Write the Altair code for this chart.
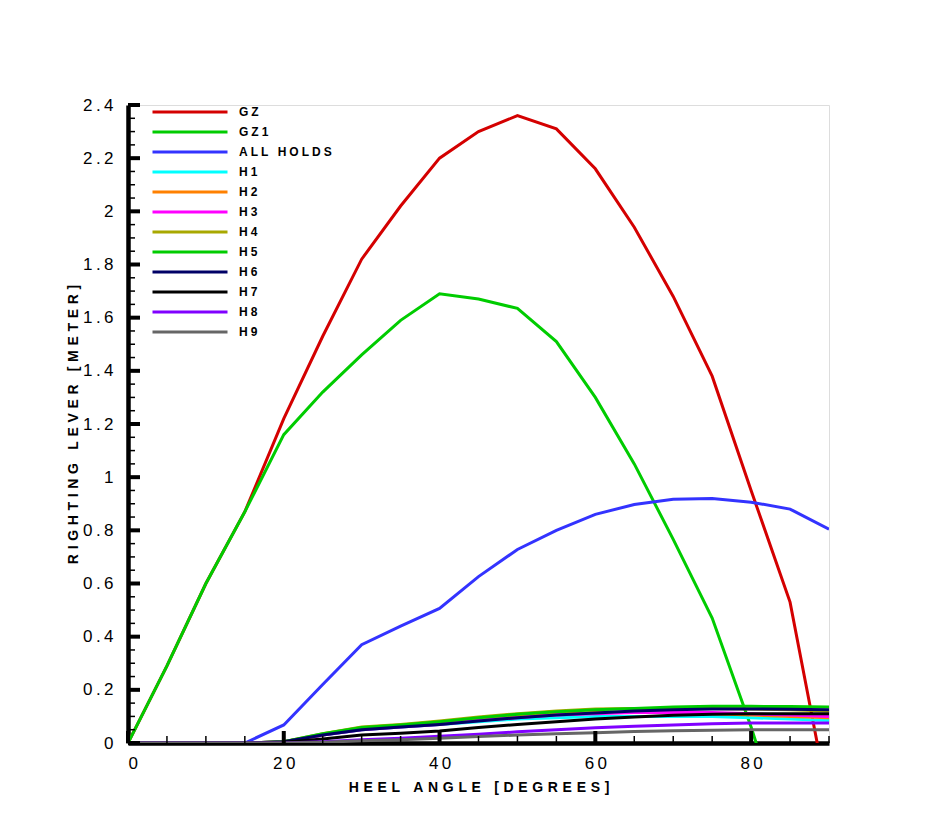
import altair as alt
import pandas as pd

# ---------------- data ----------------
heel = [0, 5, 10, 15, 20, 25, 30, 35, 40, 45, 50, 55, 60, 65, 70, 75, 80, 85, 90]

gz = [0, 0.29, 0.60, 0.87, 1.22, 1.53, 1.82, 2.02, 2.20, 2.30, 2.36, 2.31, 2.16, 1.94, 1.68, 1.38, 0.95, 0.53, -0.23]
gz1 = [0, 0.29, 0.60, 0.87, 1.16, 1.32, 1.46, 1.59, 1.69, 1.67, 1.635, 1.51, 1.30, 1.05, 0.766, 0.47, 0.06, -0.40, -0.80]
all_holds = [0, 0, 0, 0, 0.068, 0.22, 0.37, 0.44, 0.506, 0.626, 0.728, 0.80, 0.86, 0.897, 0.917, 0.92, 0.906, 0.88, 0.804]
h1 = [0, 0, 0, 0, 0.005, 0.03, 0.05, 0.06, 0.07, 0.08, 0.09, 0.095, 0.10, 0.10, 0.10, 0.10, 0.095, 0.09, 0.085]
h2 = [0, 0, 0, 0, 0.005, 0.03, 0.055, 0.065, 0.075, 0.09, 0.10, 0.11, 0.115, 0.115, 0.115, 0.11, 0.105, 0.10, 0.095]
h3 = [0, 0, 0, 0, 0.005, 0.03, 0.05, 0.06, 0.07, 0.085, 0.095, 0.105, 0.11, 0.115, 0.115, 0.115, 0.11, 0.105, 0.10]
h4 = [0, 0, 0, 0, 0.005, 0.035, 0.06, 0.07, 0.083, 0.098, 0.11, 0.12, 0.128, 0.13, 0.13, 0.13, 0.128, 0.125, 0.12]
h5 = [0, 0, 0, 0, 0.005, 0.035, 0.058, 0.068, 0.08, 0.095, 0.108, 0.118, 0.125, 0.13, 0.135, 0.138, 0.138, 0.137, 0.135]
h6 = [0, 0, 0, 0, 0.005, 0.03, 0.05, 0.06, 0.07, 0.083, 0.095, 0.105, 0.113, 0.12, 0.125, 0.128, 0.128, 0.127, 0.125]
h7 = [0, 0, 0, 0, 0.003, 0.015, 0.03, 0.037, 0.045, 0.058, 0.07, 0.08, 0.09, 0.098, 0.104, 0.108, 0.11, 0.11, 0.11]
h8 = [0, 0, 0, 0, 0, 0.005, 0.012, 0.018, 0.025, 0.033, 0.042, 0.05, 0.057, 0.063, 0.068, 0.072, 0.075, 0.075, 0.075]
h9 = [0, 0, 0, 0, 0, 0.003, 0.008, 0.012, 0.018, 0.024, 0.03, 0.035, 0.039, 0.043, 0.046, 0.048, 0.05, 0.05, 0.05]

series_names = ["GZ", "GZ1", "ALL HOLDS", "H1", "H2", "H3", "H4", "H5", "H6", "H7", "H8", "H9"]
series_values = [gz, gz1, all_holds, h1, h2, h3, h4, h5, h6, h7, h8, h9]
series_colors = ["#d40000", "#00cc00", "#3333ff", "#00ffff", "#ff8000", "#ff00ff",
                 "#a8a800", "#00cc00", "#000066", "#000000", "#8000ff", "#666666"]

x_major = [0, 20, 40, 60, 80]
x_minor = [5, 10, 15, 25, 30, 35, 45, 50, 55, 65, 70, 75, 85, 90]
y_major = [0, 0.2, 0.4, 0.6, 0.8, 1.0, 1.2, 1.4, 1.6, 1.8, 2.0, 2.2, 2.4]
y_minor = [round(0.05 * i, 2) for i in range(49) if i % 4 != 0]

x_title = "HEEL ANGLE [DEGREES]"
y_title = "RIGHTING LEVER [METER]"


# ---------------- helpers ----------------
def spaced(s, gap="\u2004"):
    return gap.join(list(s))


labels = [spaced(n, "\u2005") for n in series_names]
rows = []
for lab, vals in zip(labels, series_values):
    for h, v in zip(heel, vals):
        rows.append({"heel": h, "lever": v, "series": lab})
df = pd.DataFrame(rows)

FONT = "Liberation Sans"
label_expr = "join(split(datum.label, ''), '\u2009')"
xscale = alt.Scale(domain=[0, 90], nice=False, zero=False)
yscale = alt.Scale(domain=[0, 2.4], nice=False, zero=False)

lines = alt.Chart(df).mark_line(strokeWidth=3, clip=True).encode(
    x=alt.X("heel:Q", scale=xscale,
            axis=alt.Axis(title=spaced(x_title), values=x_major, labelExpr=label_expr,
                          ticks=False, grid=False, domainWidth=4.5, domainColor="black",
                          labelFontSize=17, labelFont=FONT, labelColor="black", labelPadding=12,
                          titleFont=FONT, titleFontSize=14, titleFontWeight="bold",
                          titleColor="black", titlePadding=9)),
    y=alt.Y("lever:Q", scale=yscale,
            axis=alt.Axis(title=spaced(y_title), values=y_major, labelExpr=label_expr,
                          format="~g", ticks=False, grid=False, domainWidth=4.5,
                          domainColor="black", labelFontSize=17, labelFont=FONT,
                          labelColor="black", labelPadding=15,
                          titleFont=FONT, titleFontSize=14, titleFontWeight="bold",
                          titleColor="black", titlePadding=2)),
    color=alt.Color("series:N",
                    scale=alt.Scale(domain=labels, range=series_colors),
                    sort=labels,
                    legend=alt.Legend(orient="none", legendX=53, legendY=-2, title=None,
                                      symbolType="M-5,0H5", symbolSize=225,
                                      symbolStrokeWidth=3, symbolFillColor="transparent",
                                      labelFontSize=12,
                                      labelFont=FONT, labelFontWeight="bold",
                                      labelColor="black", labelOffset=40,
                                      rowPadding=5, symbolLimit=0)),
)

ymaj = alt.Chart(pd.DataFrame({"v": y_major})).mark_rule(color="black", strokeWidth=4).encode(
    y=alt.Y("v:Q", scale=yscale), x=alt.value(0), x2=alt.value(12))
ymin = alt.Chart(pd.DataFrame({"v": y_minor})).mark_rule(color="black", strokeWidth=1.5).encode(
    y=alt.Y("v:Q", scale=yscale), x=alt.value(0), x2=alt.value(7))
xmaj = alt.Chart(pd.DataFrame({"v": x_major})).mark_rule(color="black", strokeWidth=4).encode(
    x=alt.X("v:Q", scale=xscale), y=alt.value(638), y2=alt.value(626))
xmin = alt.Chart(pd.DataFrame({"v": x_minor})).mark_rule(color="black", strokeWidth=1.5).encode(
    x=alt.X("v:Q", scale=xscale), y=alt.value(638), y2=alt.value(631))

chart = alt.layer(lines, ymaj, ymin, xmaj, xmin).properties(
    width=701, height=638,
    autosize=alt.AutoSizeParams(type="none"),
    padding={"left": 120, "top": 97, "right": 92, "bottom": 79},
).configure_view(stroke=None).configure(background="white")

chart.save("out.html", embed_options={"renderer": "svg", "actions": False})
